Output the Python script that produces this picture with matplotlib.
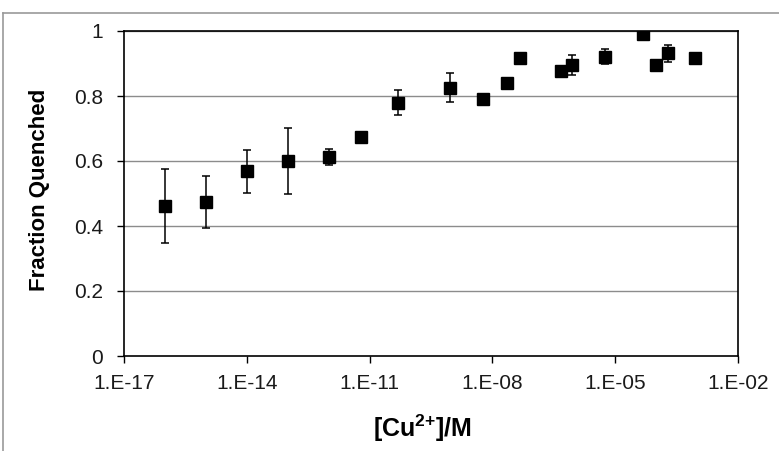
import matplotlib

matplotlib.use("Agg")
from matplotlib import pyplot as plt
from matplotlib.lines import Line2D

# [Cu2+] concentration (M), fraction quenched and error (0 = no bar)
conc = [1e-16, 1e-15, 1e-14, 1e-13, 1e-12, 6e-12, 5e-11, 9e-10, 5.8e-9,
        2.3e-8, 4.8e-8, 4.8e-7, 9e-7, 5.6e-6, 4.9e-5, 9.8e-5, 1.9e-4, 8.7e-4]
frac = [0.462, 0.473, 0.568, 0.600, 0.613, 0.675, 0.780, 0.826, 0.790,
        0.840, 0.916, 0.876, 0.895, 0.921, 0.992, 0.895, 0.931, 0.916]
err = [0.113, 0.080, 0.066, 0.103, 0.025, 0.0, 0.038, 0.044, 0.0,
       0.0, 0.0, 0.0, 0.030, 0.023, 0.0, 0.0, 0.025, 0.0]

x_ticks = [1e-17, 1e-14, 1e-11, 1e-8, 1e-5, 1e-2]
x_tick_labels = ["1.E-17", "1.E-14", "1.E-11", "1.E-08", "1.E-05", "1.E-02"]
y_ticks = [0, 0.2, 0.4, 0.6, 0.8, 1]
y_tick_labels = ["0", "0.2", "0.4", "0.6", "0.8", "1"]

plt.rcParams["font.family"] = ["Liberation Sans", "DejaVu Sans"]
plt.rcParams["mathtext.fontset"] = "custom"
plt.rcParams["mathtext.bf"] = "Liberation Sans:bold"
plt.rcParams["mathtext.rm"] = "Liberation Sans:bold"

W, H = 779, 451
fig = plt.figure(figsize=(W / 100, H / 100), dpi=100)
ax = fig.add_axes([124 / W, 1 - 356 / H, (738 - 124) / W, (356 - 31) / H])

ax.set_xscale("log")
ax.set_xlim(1e-17, 1e-2)
ax.set_ylim(0, 1)

for yv in y_ticks[1:]:
    ax.axhline(yv, color="#8c8c8c", lw=1.0, zorder=1)

ax.errorbar(conc, frac, yerr=err, fmt="s", color="black",
            ms=8, ecolor="black", elinewidth=1.1, capsize=3, capthick=1.1, zorder=3)

ax.set_xticks(x_ticks)
ax.set_xticklabels(x_tick_labels)
ax.xaxis.set_minor_locator(matplotlib.ticker.NullLocator())
ax.set_yticks(y_ticks)
ax.set_yticklabels(y_tick_labels)
ax.tick_params(axis="both", direction="out", length=5, width=1, color="black",
               labelsize=15, labelcolor="#1a1a1a")
ax.tick_params(axis="y", pad=10)
ax.tick_params(axis="x", pad=8)

for sp in ax.spines.values():
    sp.set_linewidth(1.2)
    sp.set_color("black")

fig.text(40 / W, 1 - 190 / H, "Fraction Quenched", rotation=90, ha="center",
         va="center", fontsize=16, fontweight="bold")
fig.text(422 / W, 1 - 428 / H, r"$\mathbf{[Cu^{2{+}}]/M}$", ha="center",
         va="center", fontsize=18)

# outer chart border (top and left visible)
fig.add_artist(Line2D([3 / W, 1], [1 - 13 / H, 1 - 13 / H], color="#999999", lw=1.2))
fig.add_artist(Line2D([3 / W, 3 / W], [0, 1 - 13 / H], color="#999999", lw=1.2))

fig.savefig("out.png", dpi=100)
